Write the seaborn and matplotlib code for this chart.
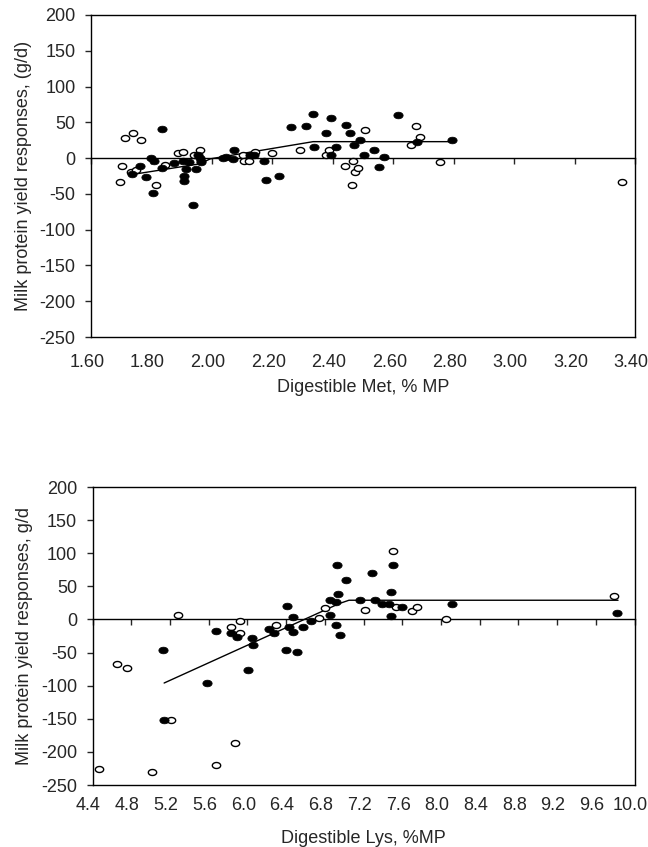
import numpy as np
import pandas as pd
import matplotlib
matplotlib.use("Agg")
import matplotlib.pyplot as plt
from matplotlib.path import Path
from matplotlib.transforms import ScaledTranslation
import seaborn as sns

# ---------------- data: panel 1 (Met) ----------------
met_filled_x = [1.737, 1.761, 1.783, 1.798, 1.804, 1.810, 1.835, 1.835, 1.876, 1.905,
                1.909, 1.909, 1.913, 1.925, 1.938, 1.946, 1.953, 1.960, 1.964, 2.037,
                2.046, 2.069, 2.074, 2.126, 2.139, 2.174, 2.178, 2.221, 2.261, 2.311,
                2.334, 2.339, 2.376, 2.393, 2.395, 2.411, 2.445, 2.456, 2.470, 2.490,
                2.503, 2.537, 2.554, 2.568, 2.617, 2.680, 2.793]
met_filled_y = [-21.6, -11.5, -26, 0, -49, -4, 40, -14, -7, -4,
                -25, -32, -15, -5, -66, -15, 5, 0, -6, 0,
                2, -1, 11, 4, 5, -4, -30, -25, 43, 45,
                62, 16, 35, 56, 4, 15, 46, 35, 18, 26,
                4, 11, -12, 1, 60, 23, 25]
met_open_x = [1.696, 1.704, 1.712, 1.731, 1.738, 1.749, 1.765, 1.815, 1.845, 1.888,
              1.905, 1.942, 1.960, 1.964, 2.103, 2.106, 2.122, 2.141, 2.199, 2.290,
              2.379, 2.389, 2.442, 2.465, 2.468, 2.472, 2.484, 2.507, 2.659, 2.677,
              2.689, 2.755, 3.356]
met_open_y = [-33, -11, 28, -20, 35, -16, 25, -37, -10, 7,
              8, 5, 11, -4, 5, -4, -4, 9, 7, 12,
              4, 11, -11, -38, -4, -19, -14, 39, 18, 45,
              29, -5, -33]
met_fit_x = [1.735, 1.96, 1.995, 2.335, 2.795]
met_fit_y = [-23, -8, -1, 23, 23]

# ---------------- data: panel 2 (Lys) ----------------
lys_filled_x = [5.13, 5.14, 5.58, 5.68, 5.83, 5.89, 6.01, 6.05, 6.06, 6.22,
                6.28, 6.41, 6.40, 6.43, 6.47, 6.47, 6.51, 6.58, 6.66, 6.85,
                6.85, 6.92, 6.92, 6.93, 6.94, 6.96, 7.02, 7.16, 7.29, 7.32,
                7.39, 7.46, 7.48, 7.48, 7.50, 7.60, 8.11, 9.82]
lys_filled_y = [-46, -152, -96, -18, -20, -26, -77, -28, -39, -14,
                -20, 20, -46, -12, 4, -19, -49, -12, -2, 7,
                29, 26, -9, 82, 38, -24, 60, 29, 70, 29,
                23, 23, 41, 5, 82, 19, 23, 9]
lys_open_x = [4.47, 4.65, 4.76, 5.01, 5.21, 5.28, 5.68, 5.83, 5.87, 5.92,
              5.92, 6.30, 6.74, 6.80, 7.22, 7.50, 7.54, 7.70, 7.75, 8.05,
              9.79]
lys_open_y = [-226, -67, -74, -230, -152, 7, -220, -11, -186, -2,
              -21, -8, 2, 17, 14, 104, 19, 12, 19, 1,
              35]
lys_fit_x = [5.14, 6.95, 7.05, 9.83]
lys_fit_y = [-96, 24, 29, 29]

# ---------------- styling ----------------
sns.set_style("white")
plt.rcParams["font.family"] = ["Liberation Sans", "DejaVu Sans"]
plt.rcParams["axes.unicode_minus"] = False

FS = 13
theta = np.linspace(0, 2 * np.pi, 48)
ellipse = Path(np.c_[np.cos(theta), 0.72 * np.sin(theta)], closed=True)

fig = plt.figure(figsize=(6.48, 8.47), dpi=100)
ax1 = fig.add_axes([91 / 648, 1 - 337 / 847, (635 - 91) / 648, (337 - 15) / 847])
ax2 = fig.add_axes([92.5 / 648, 1 - 785 / 847, (634.5 - 92.5) / 648, (785 - 487) / 847])


def draw(ax, fx, fy, ox, oy, lx, ly, xlim, xticks, xticklabels, xlabel, ylabel,
         xpad, xlabelpad):
    sns.lineplot(x=lx, y=ly, ax=ax, color="black", lw=1.0, sort=False, zorder=2)
    sns.scatterplot(x=ox, y=oy, ax=ax, marker=ellipse, s=36, facecolor="white",
                    edgecolor="black", linewidth=1.0, zorder=3)
    sns.scatterplot(x=fx, y=fy, ax=ax, marker=ellipse, s=45, color="black",
                    edgecolor="black", linewidth=0.5, zorder=4)
    ax.set_xlim(*xlim)
    ax.set_ylim(-250, 200)
    yt = list(range(-250, 201, 50))
    ax.set_yticks(yt)
    ax.set_yticklabels([str(v) for v in yt], fontsize=FS)
    ax.tick_params(axis="y", direction="out", length=4, width=1, left=True, pad=7)
    # x axis crosses at zero
    ax.spines["bottom"].set_position(("data", 0))
    ax.set_xticks(xticks)
    ax.tick_params(axis="x", direction="out", length=4, width=1, bottom=True,
                   labelbottom=False)
    for s in ["left", "right", "top", "bottom"]:
        ax.spines[s].set_visible(True)
        ax.spines[s].set_color("black")
        ax.spines[s].set_linewidth(1.0)
    sec = ax.secondary_xaxis(0)
    sec.set_xticks(xticks)
    sec.set_xticklabels(xticklabels, fontsize=FS)
    sec.tick_params(length=0, pad=xpad)
    sec.spines["bottom"].set_color("black")
    sec.spines["bottom"].set_linewidth(1.0)
    off = ScaledTranslation(-4 / 100, 0, fig.dpi_scale_trans)
    for lbl in sec.get_xticklabels():
        lbl.set_transform(lbl.get_transform() + off)
    sec.set_xlabel(xlabel, fontsize=FS, labelpad=xlabelpad)
    ax.set_xlabel("")
    ax.set_ylabel(ylabel, fontsize=FS, labelpad=5.5)


met_ticks = [1.6 + 0.2 * i for i in range(10)]
draw(ax1, met_filled_x, met_filled_y, met_open_x, met_open_y, met_fit_x, met_fit_y,
     (1.6, 3.4), met_ticks, [f"{t:.2f}" for t in met_ticks],
     "Digestible Met, % MP", "Milk protein yield responses, (g/d)", 12, 6.3)

lys_ticks = [4.4 + 0.4 * i for i in range(15)]
draw(ax2, lys_filled_x, lys_filled_y, lys_open_x, lys_open_y, lys_fit_x, lys_fit_y,
     (4.4, 10.0), lys_ticks, [f"{t:.1f}" for t in lys_ticks],
     "Digestible Lys, %MP", "Milk protein yield responses, g/d", 8.6, 11.4)

fig.savefig("out.png", dpi=100)
